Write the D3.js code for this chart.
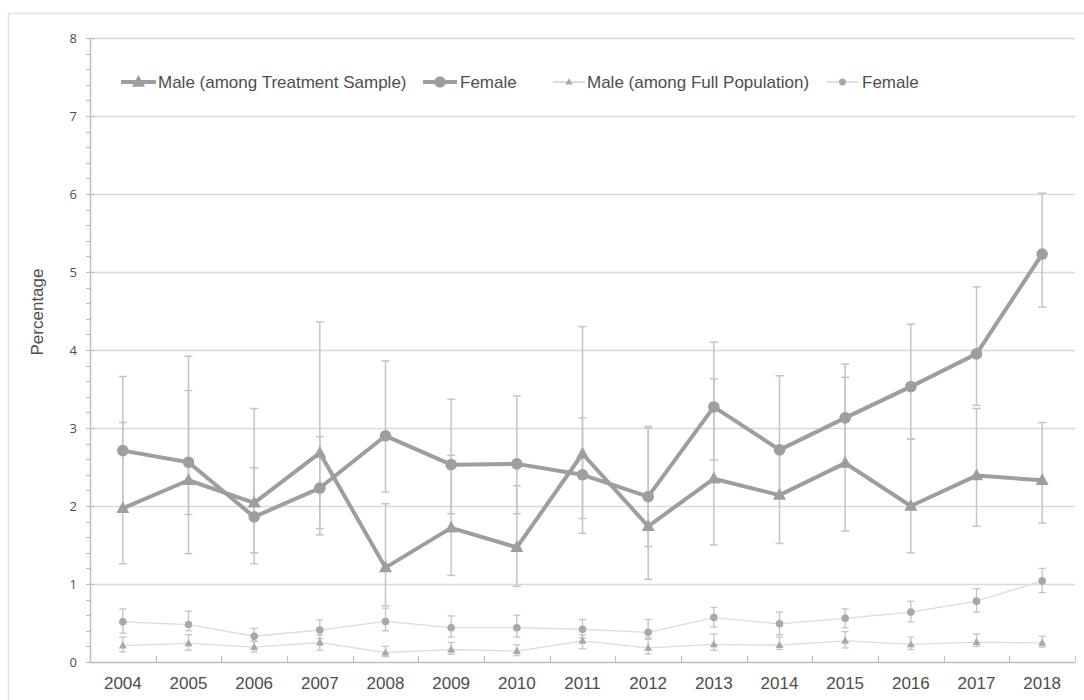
<!DOCTYPE html>
<html>
<head>
<meta charset="utf-8">
<script src="https://cdn.jsdelivr.net/npm/d3@7"></script>
<style>
  html, body { margin: 0; padding: 0; background: #fff; }
  svg { display: block; font-family: "Liberation Sans", Arial, sans-serif; }
</style>
</head>
<body>
<svg id="chart" width="1084" height="700"></svg>
<script>
const years = ["2004","2005","2006","2007","2008","2009","2010","2011","2012","2013","2014","2015","2016","2017","2018"];

// Male (among Treatment Sample)
const maleTreat   = [1.97, 2.33, 2.04, 2.68, 1.21, 1.72, 1.47, 2.67, 1.74, 2.35, 2.14, 2.55, 2.00, 2.39, 2.33];
const maleTreatLo = [1.26, 1.39, 1.26, 1.71, 0.72, 1.11, 0.97, 1.65, 1.06, 1.50, 1.52, 1.68, 1.40, 1.74, 1.78];
const maleTreatHi = [3.07, 3.48, 3.25, 4.36, 2.03, 2.65, 2.26, 4.30, 3.00, 3.63, 2.72, 3.82, 2.86, 3.25, 3.07];

// Female (among Treatment Sample)
const femTreat    = [2.71, 2.56, 1.86, 2.23, 2.90, 2.53, 2.54, 2.40, 2.12, 3.27, 2.72, 3.13, 3.53, 3.95, 5.23];
const femTreatLo  = [1.97, 1.89, 1.40, 1.63, 2.18, 1.90, 1.90, 1.84, 1.48, 2.59, 2.10, 2.55, 2.86, 3.29, 4.55];
const femTreatHi  = [3.66, 3.92, 2.49, 2.89, 3.86, 3.37, 3.41, 3.13, 3.02, 4.10, 3.67, 3.65, 4.33, 4.81, 6.01];

// Male (among Full Population)
const maleFull    = [0.21, 0.24, 0.19, 0.25, 0.12, 0.16, 0.14, 0.27, 0.18, 0.225, 0.215, 0.27, 0.225, 0.255, 0.245];
const maleFullLo  = [0.13, 0.15, 0.13, 0.15, 0.07, 0.10, 0.08, 0.17, 0.10, 0.15, 0.16, 0.18, 0.16, 0.20, 0.19];
const maleFullHi  = [0.32, 0.35, 0.26, 0.35, 0.20, 0.25, 0.22, 0.35, 0.31, 0.36, 0.32, 0.39, 0.32, 0.36, 0.33];

// Female (among Full Population)
const femFull     = [0.515, 0.48, 0.33, 0.41, 0.52, 0.44, 0.44, 0.42, 0.38, 0.57, 0.49, 0.56, 0.64, 0.78, 1.04];
const femFullLo   = [0.37, 0.40, 0.27, 0.30, 0.40, 0.32, 0.32, 0.31, 0.29, 0.45, 0.35, 0.44, 0.515, 0.64, 0.89];
const femFullHi   = [0.68, 0.65, 0.43, 0.54, 0.69, 0.59, 0.60, 0.545, 0.545, 0.70, 0.64, 0.68, 0.78, 0.94, 1.20];

const yTicks = [0, 1, 2, 3, 4, 5, 6, 7, 8];
const legendLabels = ["Male (among Treatment Sample)", "Female", "Male (among Full Population)", "Female"];
const yTitle = "Percentage";

const svg = d3.select("#chart");
const W = 1084, H = 700;

const axisColor = "#bfbfbf";
const gridColor = "#d9d9d9";
const textColor = "#4d4d4d";
const thickColor = "#9e9e9e";
const errColor = "#c4c4c4";
const thinLine = "#dcdcdc";
const thinMark = "#a8a8a8";

// outer frame
svg.append("rect").attr("x", 8.5).attr("y", 13.5).attr("width", W + 20).attr("height", H + 20)
  .attr("fill", "none").attr("stroke", "#e3e3e3").attr("stroke-width", 1.5);

const x = d3.scaleBand().domain(years).range([90, 1075]).padding(0);
const y = d3.scaleLinear().domain([0, 8]).range([662, 38]);
const cx = d => x(d) + x.bandwidth() / 2;

// gridlines
svg.append("g").selectAll("line").data(yTicks.filter(t => t > 0)).join("line")
  .attr("x1", 90).attr("x2", 1075)
  .attr("y1", d => Math.round(y(d)) + 0.5).attr("y2", d => Math.round(y(d)) + 0.5)
  .attr("stroke", gridColor).attr("stroke-width", 1.5);

// y axis with minor ticks
const minor = d3.range(0, 8.001, 0.2).map(v => +v.toFixed(1)).filter(v => !Number.isInteger(v));
svg.append("g").selectAll("line").data(minor).join("line")
  .attr("x1", 86).attr("x2", 90)
  .attr("y1", d => Math.round(y(d)) + 0.5).attr("y2", d => Math.round(y(d)) + 0.5)
  .attr("stroke", axisColor).attr("stroke-width", 1.2);

const yAxis = d3.axisLeft(y).tickValues(yTicks).tickSize(0).tickPadding(13).tickFormat(d3.format("d"));
const gy = svg.append("g").attr("transform", "translate(90,0)").call(yAxis);
gy.select(".domain").attr("stroke", axisColor).attr("stroke-width", 1.5);
gy.selectAll("text").attr("fill", textColor).attr("font-size", 13).attr("font-family", "'Open Sans', 'Liberation Sans', sans-serif");
svg.append("g").selectAll("line").data(yTicks).join("line")
  .attr("x1", 86).attr("x2", 95)
  .attr("y1", d => Math.round(y(d)) + 0.5).attr("y2", d => Math.round(y(d)) + 0.5)
  .attr("stroke", axisColor).attr("stroke-width", 1.2);

// x axis
const xAxis = d3.axisBottom(x).tickSize(0).tickPadding(15);
const gx = svg.append("g").attr("transform", "translate(0,662)").call(xAxis);
gx.select(".domain").attr("stroke", axisColor).attr("stroke-width", 1.5);
gx.selectAll("text").attr("fill", textColor).attr("font-size", 17).attr("font-family", "'Liberation Sans', Arial, sans-serif");
// category boundary ticks (inside)
const bounds = years.map(d => x(d)).slice(1).concat([1075]);
svg.append("g").selectAll("line").data(bounds).join("line")
  .attr("x1", d => Math.round(d) + 0.5).attr("x2", d => Math.round(d) + 0.5)
  .attr("y1", 656).attr("y2", 662)
  .attr("stroke", axisColor).attr("stroke-width", 1.2);

// y axis title
svg.append("text")
  .attr("transform", "translate(43,312) rotate(-90)")
  .attr("text-anchor", "middle")
  .attr("fill", textColor).attr("font-size", 17)
  .text(yTitle);

// error bars
function errorBars(lo, hi, sw, cap) {
  const g = svg.append("g").attr("stroke", errColor).attr("stroke-width", sw).attr("fill", "none");
  years.forEach((yr, i) => {
    const xc = cx(yr);
    g.append("line").attr("x1", xc).attr("x2", xc).attr("y1", y(lo[i])).attr("y2", y(hi[i]));
    g.append("line").attr("x1", xc - cap).attr("x2", xc + cap).attr("y1", y(lo[i])).attr("y2", y(lo[i]));
    g.append("line").attr("x1", xc - cap).attr("x2", xc + cap).attr("y1", y(hi[i])).attr("y2", y(hi[i]));
  });
}
errorBars(femFullLo, femFullHi, 1.3, 3.5);
errorBars(maleFullLo, maleFullHi, 1.3, 3.5);
errorBars(maleTreatLo, maleTreatHi, 1.5, 4);
errorBars(femTreatLo, femTreatHi, 1.5, 4);

const line = d3.line().x((d, i) => cx(years[i])).y(d => y(d));

function tri(s) {
  const h = s * 0.9;
  return `M0,${-h * 0.6}L${s / 2},${h * 0.4}L${-s / 2},${h * 0.4}Z`;
}

// thin full-population series
svg.append("path").datum(femFull).attr("d", line).attr("fill", "none").attr("stroke", thinLine).attr("stroke-width", 1.3);
svg.append("path").datum(maleFull).attr("d", line).attr("fill", "none").attr("stroke", thinLine).attr("stroke-width", 1.3);
svg.append("g").selectAll("circle").data(femFull).join("circle")
  .attr("cx", (d, i) => cx(years[i])).attr("cy", d => y(d)).attr("r", 3.8).attr("fill", thinMark);
svg.append("g").selectAll("path").data(maleFull).join("path")
  .attr("transform", (d, i) => `translate(${cx(years[i])},${y(d)})`).attr("d", tri(8)).attr("fill", thinMark);

// thick treatment series
svg.append("path").datum(maleTreat).attr("d", line).attr("fill", "none").attr("stroke", thickColor).attr("stroke-width", 4).attr("stroke-linejoin", "round");
svg.append("path").datum(femTreat).attr("d", line).attr("fill", "none").attr("stroke", thickColor).attr("stroke-width", 4).attr("stroke-linejoin", "round");
svg.append("g").selectAll("path").data(maleTreat).join("path")
  .attr("transform", (d, i) => `translate(${cx(years[i])},${y(d)})`).attr("d", tri(13)).attr("fill", thickColor);
svg.append("g").selectAll("circle").data(femTreat).join("circle")
  .attr("cx", (d, i) => cx(years[i])).attr("cy", d => y(d)).attr("r", 5.8).attr("fill", thickColor);

// legend
const legend = [
  { x0: 121, x1: 156, tx: 158, marker: "tri", size: 13, lw: 4, lc: thickColor, mc: thickColor },
  { x0: 423, x1: 457, tx: 460, marker: "circle", size: 5.8, lw: 4, lc: thickColor, mc: thickColor },
  { x0: 553, x1: 585, tx: 587, marker: "tri", size: 7, lw: 1.3, lc: "#c8c8c8", mc: thinMark },
  { x0: 827, x1: 858, tx: 862, marker: "circle", size: 3.5, lw: 1.3, lc: "#d0d0d0", mc: thinMark }
];
const ly = 82;
const lg = svg.append("g");
legend.forEach((L, i) => {
  lg.append("line").attr("x1", L.x0).attr("x2", L.x1).attr("y1", ly).attr("y2", ly)
    .attr("stroke", L.lc).attr("stroke-width", L.lw);
  const mx = (L.x0 + L.x1) / 2;
  if (L.marker === "tri") {
    lg.append("path").attr("transform", `translate(${mx},${ly})`).attr("d", tri(L.size)).attr("fill", L.mc);
  } else {
    lg.append("circle").attr("cx", mx).attr("cy", ly).attr("r", L.size).attr("fill", L.mc);
  }
  lg.append("text").attr("x", L.tx).attr("y", ly + 6).attr("fill", textColor)
    .attr("font-size", 17).text(legendLabels[i]);
});
</script>
</body>
</html>
